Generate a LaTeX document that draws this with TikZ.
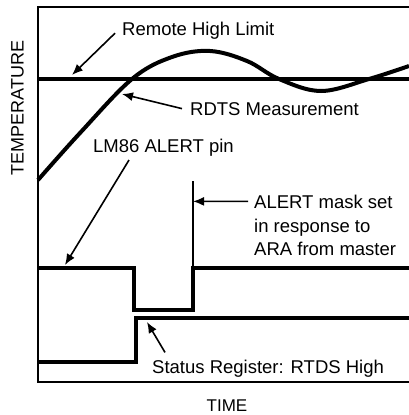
\documentclass[tikz,border=0pt]{standalone}
\usepackage{fontspec}
\setmainfont{Liberation Sans}
\usetikzlibrary{arrows.meta,positioning}

\begin{document}
\begin{tikzpicture}[
    x=1pt, y=-1pt,
    >={Latex[length=11pt,width=9pt]},
    font=\fontsize{18.5}{22}\selectfont,
    frame/.style={line width=1.4pt},
    signal/.style={line width=4pt, line join=miter},
    pointer/.style={->, line width=1.6pt},
    label/.style={inner sep=0pt, anchor=base west},
    axis/.style={inner sep=0pt, font=\fontsize{17}{20}\selectfont}
  ]
  \useasboundingbox (0,0) rectangle (409,415);

  % the frame and the axis names
  \draw [frame] (409,7) -- (38,7) -- (38,382) -- (409,382);
  \node [axis, anchor=base] (time) at (227,411) {TIME};
  \node [axis, font=\fontsize{18}{20}\selectfont, rotate=90] (temp) at (17.5,108) {TEMPERATURE};

  % limit and measured temperature
  \draw [signal] (38,79) -- (409,79);
  \draw [signal] plot [smooth, tension=0.6] coordinates {
    (38,180) (80,133) (132,79) (172,57) (210,51) (247,61)
    (279,79) (321,91) (369,79) (409,66)};

  % the two logic lines
  \draw [signal] (38,268) -- (134,268) -- (134,310) -- (193,310) -- (193,268) -- (409,268);
  \draw [signal] (38,362) -- (136,362) -- (136,318) -- (409,318);
  \draw [frame] (193,181) -- (193,268);

  % the labels
  \node [label] (limit) at (122,35) {Remote High Limit};
  \node [label] (rdts) at (190,115) {RDTS Measurement};
  \node [label] (pin) at (93,152) {LM86 ALERT pin};
  \node [label] (mask1) at (254,208) {ALERT mask set};
  \node [label] (mask2) at (254,232) {in response to};
  \node [label] (mask3) at (254,255) {ARA from master};
  \node [label] (status) at (152,373) {Status Register: RTDS High};

  % where the pointers end
  \coordinate (limit tip) at (72,75);
  \coordinate (rdts tip) at (122,94);
  \coordinate (pin tip) at (65,265);
  \coordinate (mask tip) at (193,201.4);
  \coordinate (status tip) at (147,322);

  \draw [pointer] ([shift={(-7,3)}]limit.west) -- (limit tip);
  \draw [pointer] ([xshift=-8]rdts.west) -- (rdts tip);
  \draw [pointer] ([shift={(36,4)}]pin.south west) -- (pin tip);
  \draw [pointer] ([xshift=-6]mask1.west) -- (mask tip);
  \draw [pointer] ([shift={(13,-7)}]status.north west) -- (status tip);

\end{tikzpicture}
\end{document}
